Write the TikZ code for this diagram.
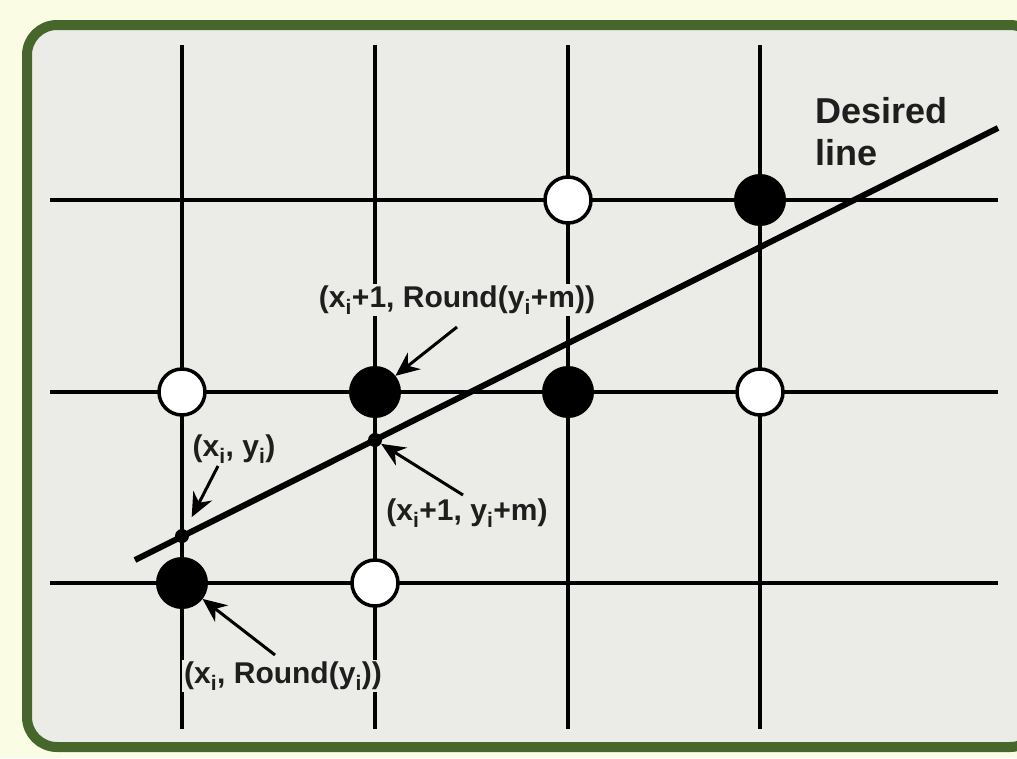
\documentclass[tikz,border=0pt]{standalone}
\usepackage{fontspec}
\setmainfont{Liberation Sans}
\usetikzlibrary{arrows.meta}
\definecolor{outerbg}{HTML}{FAFCE4}
\definecolor{innerbg}{HTML}{EBECE7}
\definecolor{framegreen}{HTML}{46662B}
\definecolor{inkgray}{HTML}{1E1E1E}
\tikzset{
  gridline/.style={line width=4pt, black},
  fulldot/.style={circle, fill=black, draw=black, line width=3pt, minimum size=49pt, inner sep=0pt},
  emptydot/.style={circle, fill=white, draw=black, line width=3.5pt, minimum size=46pt, inner sep=0pt},
  smalldot/.style={circle, fill=black, minimum size=14pt, inner sep=0pt},
  lbl/.style={font=\bfseries\fontsize{30}{34}\selectfont, text=inkgray, fill=innerbg, inner sep=2pt},
  pointer/.style={line width=3pt, black, -{Stealth[length=24pt, width=21pt]}},
}
\begin{document}
\begin{tikzpicture}[x=1pt, y=-1pt]
\useasboundingbox (0,0) rectangle (1017,758);
\fill[outerbg] (0,0) rectangle (1017,758);
\begin{scope}
\clip (0,0) rectangle (1017,758);
\draw[framegreen, line width=10pt, fill=innerbg, rounded corners=30pt] (27,25) rectangle (1040,747);
\end{scope}
% grid
\foreach \gx in {182,375,568,760} {\draw[gridline] (\gx,45) -- (\gx,729);}
\foreach \gy in {200,392,583} {\draw[gridline] (50,\gy) -- (998,\gy);}
% desired line
\coordinate (la) at (135,560);
\coordinate (lb) at (998,128);
\draw[line width=6pt, black] (la) -- (lb);
% pixels
\node[emptydot] (p32) at (568,200) {};
\node[fulldot]  (p42) at (760,200) {};
\node[emptydot] (p11) at (182,392) {};
\node[fulldot]  (p21) at (375,392) {};
\node[fulldot]  (p31) at (568,392) {};
\node[emptydot] (p41) at (760,392) {};
\node[fulldot]  (p10) at (182,583) {};
\node[emptydot] (p20) at (375,583) {};
% points on line
\node[smalldot] (q1) at (182,536) {};
\node[smalldot] (q2) at (375,440) {};
% labels
\node[font=\bfseries\fontsize{36}{42}\selectfont, text=inkgray, align=left, anchor=north west, inner sep=0pt] (dl) at (815,97) {Desired\\line};
\node[lbl] (l1) at (457,300) {(x\textsubscript{i}+1, Round(y\textsubscript{i}+m))};
\node[lbl, fill=none] (l2) at (234,449) {(x\textsubscript{i}, y\textsubscript{i})};
\node[lbl, fill=none] (l3) at (467,513) {(x\textsubscript{i}+1, y\textsubscript{i}+m)};
\node[lbl] (l4) at (283,676) {(x\textsubscript{i}, Round(y\textsubscript{i}))};
% pointers
\coordinate (a1) at (457,327);
\coordinate (a2) at (218,466);
\coordinate (a3) at (463,495);
\coordinate (a4) at (275,655);
\draw[pointer] (a1) -- (p21);
\draw[pointer, shorten >=14pt] (a2) -- (q1);
\draw[pointer] (a3) -- (q2);
\draw[pointer] (a4) -- (p10);
\end{tikzpicture}
\end{document}
